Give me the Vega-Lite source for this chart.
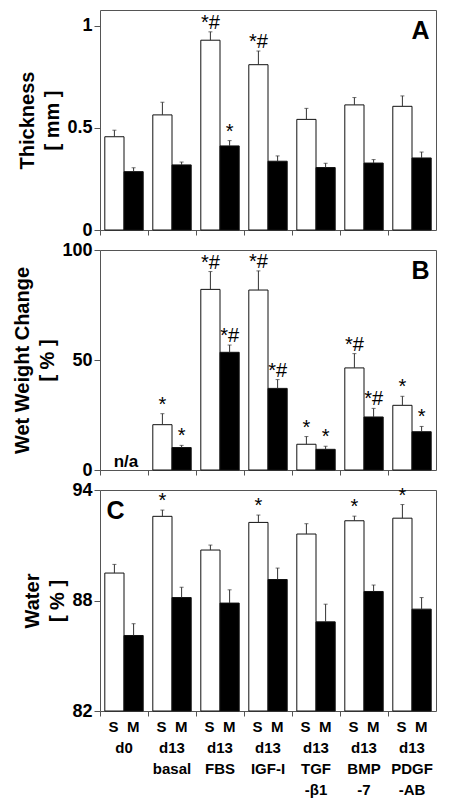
{
  "$schema": "https://vega.github.io/schema/vega-lite/v6.json",
  "padding": {"left": 12, "top": 9, "right": 5, "bottom": 5},
  "background": "white",
  "bounds": "flush",
  "spacing": 20,
  "config": {
    "font": "Liberation Sans",
    "view": {"stroke": "#555", "strokeWidth": 1},
    "axis": {"grid": false, "domain": false, "tickColor": "#555", "labelColor": "black", "titleColor": "black", "labelFont": "Liberation Sans", "titleFont": "Liberation Sans"},
    "axisY": {"labelFontSize": 18, "labelFontWeight": "bold", "labelPadding": 2, "tickSize": 6, "titleFontSize": 20, "titleFontWeight": "bold", "titleLineHeight": 25, "titlePadding": 4},
    "axisX": {"tickSize": 5, "labelAngle": 0, "title": null, "labelOverlap": false, "labelFontSize": 15, "labelFontWeight": "bold", "labelLineHeight": 21, "labelPadding": 3}
  },
  "datasets": {
    "a": [
      {"group": "d0", "type": "S", "value": 0.457, "upper": 0.489, "sig": ""},
      {"group": "d0", "type": "M", "value": 0.286, "upper": 0.305, "sig": ""},
      {"group": "d13 basal", "type": "S", "value": 0.564, "upper": 0.626, "sig": ""},
      {"group": "d13 basal", "type": "M", "value": 0.319, "upper": 0.333, "sig": ""},
      {"group": "d13 FBS", "type": "S", "value": 0.93, "upper": 0.971, "sig": "*#"},
      {"group": "d13 FBS", "type": "M", "value": 0.412, "upper": 0.438, "sig": "*"},
      {"group": "d13 IGF-I", "type": "S", "value": 0.81, "upper": 0.877, "sig": "*#"},
      {"group": "d13 IGF-I", "type": "M", "value": 0.337, "upper": 0.363, "sig": ""},
      {"group": "d13 TGF -β1", "type": "S", "value": 0.542, "upper": 0.596, "sig": ""},
      {"group": "d13 TGF -β1", "type": "M", "value": 0.306, "upper": 0.327, "sig": ""},
      {"group": "d13 BMP -7", "type": "S", "value": 0.613, "upper": 0.649, "sig": ""},
      {"group": "d13 BMP -7", "type": "M", "value": 0.328, "upper": 0.345, "sig": ""},
      {"group": "d13 PDGF -AB", "type": "S", "value": 0.606, "upper": 0.657, "sig": ""},
      {"group": "d13 PDGF -AB", "type": "M", "value": 0.353, "upper": 0.382, "sig": ""}
    ],
    "b": [
      {"group": "d13 basal", "type": "S", "value": 20.6, "upper": 25.6, "sig": "*"},
      {"group": "d13 basal", "type": "M", "value": 10.2, "upper": 11.2, "sig": "*"},
      {"group": "d13 FBS", "type": "S", "value": 82.1, "upper": 90.2, "sig": "*#"},
      {"group": "d13 FBS", "type": "M", "value": 53.5, "upper": 56.8, "sig": "*#"},
      {"group": "d13 IGF-I", "type": "S", "value": 81.8, "upper": 90.5, "sig": "*#"},
      {"group": "d13 IGF-I", "type": "M", "value": 37.1, "upper": 41.1, "sig": "*#"},
      {"group": "d13 TGF -β1", "type": "S", "value": 11.7, "upper": 15.2, "sig": "*"},
      {"group": "d13 TGF -β1", "type": "M", "value": 9.4, "upper": 10.8, "sig": "*"},
      {"group": "d13 BMP -7", "type": "S", "value": 46.4, "upper": 52.9, "sig": "*#"},
      {"group": "d13 BMP -7", "type": "M", "value": 24.1, "upper": 28.0, "sig": "*#"},
      {"group": "d13 PDGF -AB", "type": "S", "value": 29.4, "upper": 33.5, "sig": "*"},
      {"group": "d13 PDGF -AB", "type": "M", "value": 17.4, "upper": 19.8, "sig": "*"}
    ],
    "c": [
      {"group": "d0", "type": "S", "value": 89.49, "upper": 89.96, "sig": ""},
      {"group": "d0", "type": "M", "value": 86.1, "upper": 86.74, "sig": ""},
      {"group": "d13 basal", "type": "S", "value": 92.57, "upper": 92.91, "sig": "*"},
      {"group": "d13 basal", "type": "M", "value": 88.16, "upper": 88.72, "sig": ""},
      {"group": "d13 FBS", "type": "S", "value": 90.74, "upper": 91.01, "sig": ""},
      {"group": "d13 FBS", "type": "M", "value": 87.86, "upper": 88.58, "sig": ""},
      {"group": "d13 IGF-I", "type": "S", "value": 92.24, "upper": 92.64, "sig": "*"},
      {"group": "d13 IGF-I", "type": "M", "value": 89.14, "upper": 89.76, "sig": ""},
      {"group": "d13 TGF -β1", "type": "S", "value": 91.61, "upper": 92.17, "sig": ""},
      {"group": "d13 TGF -β1", "type": "M", "value": 86.84, "upper": 87.8, "sig": ""},
      {"group": "d13 BMP -7", "type": "S", "value": 92.33, "upper": 92.58, "sig": "*"},
      {"group": "d13 BMP -7", "type": "M", "value": 88.49, "upper": 88.84, "sig": ""},
      {"group": "d13 PDGF -AB", "type": "S", "value": 92.47, "upper": 93.21, "sig": "*"},
      {"group": "d13 PDGF -AB", "type": "M", "value": 87.53, "upper": 88.16, "sig": ""}
    ]
  },
  "vconcat": [
    {
      "width": 336, "height": 220,
      "data": {"name": "a"},
      "layer": [
        {
          "mark": {"type": "bar", "stroke": "#111", "strokeWidth": 1},
          "encoding": {
            "x": {"field": "group", "type": "nominal", "sort": null, "scale": {"domain": ["d0", "d13 basal", "d13 FBS", "d13 IGF-I", "d13 TGF -β1", "d13 BMP -7", "d13 PDGF -AB"], "paddingInner": 0, "paddingOuter": 0}, "axis": {"labels": false, "bandPosition": 0}},
            "xOffset": {"field": "type", "type": "nominal", "scale": {"domain": ["S", "M"], "paddingInner": 0, "paddingOuter": 0.25}},
            "y": {"field": "value", "type": "quantitative", "scale": {"domain": [0, 1.078], "nice": false}, "axis": {"values": [0, 0.5, 1], "format": "~g", "title": ["Thickness", "[ mm ]"]}},
            "fill": {"field": "type", "type": "nominal", "scale": {"domain": ["S", "M"], "range": ["#ffffff", "#000000"]}, "legend": null}
          }
        },
        {
          "mark": {"type": "rule", "color": "#333", "strokeWidth": 1},
          "encoding": {
            "x": {"field": "group", "type": "nominal"},
            "xOffset": {"field": "type", "type": "nominal"},
            "y": {"field": "value", "type": "quantitative"},
            "y2": {"field": "upper"}
          }
        },
        {
          "mark": {"type": "tick", "color": "#333", "size": 4, "thickness": 1, "orient": "horizontal"},
          "encoding": {
            "x": {"field": "group", "type": "nominal"},
            "xOffset": {"field": "type", "type": "nominal"},
            "y": {"field": "upper", "type": "quantitative"}
          }
        },
        {
          "transform": [{"filter": "datum.sig != ''"}],
          "mark": {"type": "text", "fontSize": 20, "baseline": "alphabetic", "dy": -3, "color": "black"},
          "encoding": {
            "x": {"field": "group", "type": "nominal"},
            "xOffset": {"field": "type", "type": "nominal"},
            "y": {"field": "upper", "type": "quantitative"},
            "text": {"field": "sig"}
          }
        },
        {
          "data": {"values": [{"letter": "A"}]},
          "mark": {"type": "text", "fontSize": 25, "fontWeight": "bold", "align": "right", "baseline": "top", "dx": 8, "dy": 9, "color": "black"},
          "encoding": {
            "x": {"datum": "d13 PDGF -AB"},
            "xOffset": {"datum": "M"},
            "y": {"datum": 1.078},
            "text": {"field": "letter"}
          }
        }
      ]
    },
    {
      "width": 336, "height": 220,
      "data": {"name": "b"},
      "layer": [
        {
          "mark": {"type": "bar", "stroke": "#111", "strokeWidth": 1},
          "encoding": {
            "x": {"field": "group", "type": "nominal", "sort": null, "scale": {"domain": ["d0", "d13 basal", "d13 FBS", "d13 IGF-I", "d13 TGF -β1", "d13 BMP -7", "d13 PDGF -AB"], "paddingInner": 0, "paddingOuter": 0}, "axis": {"labels": false, "bandPosition": 0}},
            "xOffset": {"field": "type", "type": "nominal", "scale": {"domain": ["S", "M"], "paddingInner": 0, "paddingOuter": 0.25}},
            "y": {"field": "value", "type": "quantitative", "scale": {"domain": [0, 100], "nice": false}, "axis": {"values": [0, 50, 100], "format": "d", "title": ["Wet Weight Change", "[ % ]"]}},
            "fill": {"field": "type", "type": "nominal", "scale": {"domain": ["S", "M"], "range": ["#ffffff", "#000000"]}, "legend": null}
          }
        },
        {
          "mark": {"type": "rule", "color": "#333", "strokeWidth": 1},
          "encoding": {
            "x": {"field": "group", "type": "nominal"},
            "xOffset": {"field": "type", "type": "nominal"},
            "y": {"field": "value", "type": "quantitative"},
            "y2": {"field": "upper"}
          }
        },
        {
          "mark": {"type": "tick", "color": "#333", "size": 4, "thickness": 1, "orient": "horizontal"},
          "encoding": {
            "x": {"field": "group", "type": "nominal"},
            "xOffset": {"field": "type", "type": "nominal"},
            "y": {"field": "upper", "type": "quantitative"}
          }
        },
        {
          "transform": [{"filter": "datum.sig != ''"}],
          "mark": {"type": "text", "fontSize": 20, "baseline": "alphabetic", "dy": -3, "color": "black"},
          "encoding": {
            "x": {"field": "group", "type": "nominal"},
            "xOffset": {"field": "type", "type": "nominal"},
            "y": {"field": "upper", "type": "quantitative"},
            "text": {"field": "sig"}
          }
        },
        {
          "data": {"values": [{"group": "d0", "note": "n/a"}]},
          "mark": {"type": "text", "fontSize": 17, "fontWeight": "bold", "baseline": "alphabetic", "dy": -3, "dx": 2, "color": "black"},
          "encoding": {
            "x": {"field": "group", "type": "nominal"},
            "y": {"datum": 0},
            "text": {"field": "note"}
          }
        },
        {
          "data": {"values": [{"letter": "B"}]},
          "mark": {"type": "text", "fontSize": 25, "fontWeight": "bold", "align": "right", "baseline": "top", "dx": 8, "dy": 9, "color": "black"},
          "encoding": {
            "x": {"datum": "d13 PDGF -AB"},
            "xOffset": {"datum": "M"},
            "y": {"datum": 100},
            "text": {"field": "letter"}
          }
        }
      ]
    },
    {
      "width": 336, "height": 221,
      "data": {"name": "c"},
      "layer": [
        {
          "mark": {"type": "bar", "stroke": "#111", "strokeWidth": 1},
          "encoding": {
            "x": {"field": "group", "type": "nominal", "sort": null, "scale": {"domain": ["d0", "d13 basal", "d13 FBS", "d13 IGF-I", "d13 TGF -β1", "d13 BMP -7", "d13 PDGF -AB"], "paddingInner": 0, "paddingOuter": 0}, "axis": {"bandPosition": 0, "labelExpr": "split('S\u00a0\u00a0M ' + datum.value, ' ')", "labelBaseline": "top"}},
            "xOffset": {"field": "type", "type": "nominal", "scale": {"domain": ["S", "M"], "paddingInner": 0, "paddingOuter": 0.25}},
            "y": {"field": "value", "type": "quantitative", "scale": {"domain": [82, 94], "nice": false, "zero": false}, "axis": {"values": [82, 88, 94], "format": "d", "title": ["Water", "[ % ]"]}},
            "y2": {"datum": 82},
            "fill": {"field": "type", "type": "nominal", "scale": {"domain": ["S", "M"], "range": ["#ffffff", "#000000"]}, "legend": null}
          }
        },
        {
          "mark": {"type": "rule", "color": "#333", "strokeWidth": 1},
          "encoding": {
            "x": {"field": "group", "type": "nominal"},
            "xOffset": {"field": "type", "type": "nominal"},
            "y": {"field": "value", "type": "quantitative"},
            "y2": {"field": "upper"}
          }
        },
        {
          "mark": {"type": "tick", "color": "#333", "size": 4, "thickness": 1, "orient": "horizontal"},
          "encoding": {
            "x": {"field": "group", "type": "nominal"},
            "xOffset": {"field": "type", "type": "nominal"},
            "y": {"field": "upper", "type": "quantitative"}
          }
        },
        {
          "transform": [{"filter": "datum.sig != ''"}],
          "mark": {"type": "text", "fontSize": 20, "baseline": "alphabetic", "dy": -3, "color": "black"},
          "encoding": {
            "x": {"field": "group", "type": "nominal"},
            "xOffset": {"field": "type", "type": "nominal"},
            "y": {"field": "upper", "type": "quantitative"},
            "text": {"field": "sig"}
          }
        },
        {
          "data": {"values": [{"letter": "C"}]},
          "mark": {"type": "text", "fontSize": 25, "fontWeight": "bold", "align": "left", "baseline": "top", "dx": -8, "dy": 9, "color": "black"},
          "encoding": {
            "x": {"datum": "d0"},
            "xOffset": {"datum": "S"},
            "y": {"datum": 94},
            "text": {"field": "letter"}
          }
        }
      ]
    }
  ]
}
